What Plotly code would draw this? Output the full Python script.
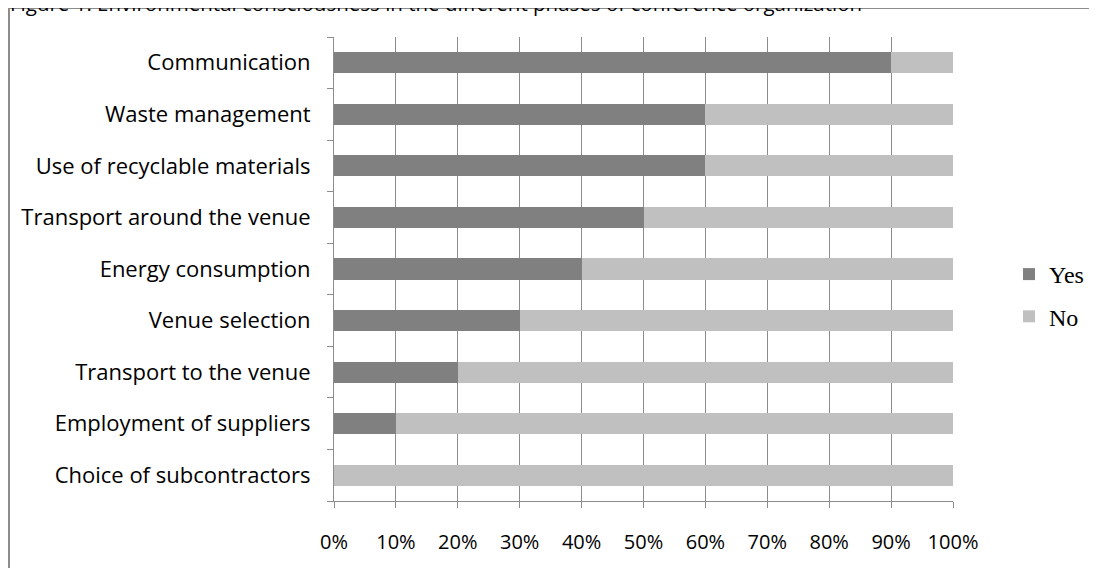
import plotly.graph_objects as go

categories = ["Choice of subcontractors", "Employment of suppliers", "Transport to the venue",
              "Venue selection", "Energy consumption", "Transport around the venue",
              "Use of recyclable materials", "Waste management", "Communication"]
yes_vals = [0, 10, 20, 30, 40, 50, 60, 60, 90]
no_vals = [100, 90, 80, 70, 60, 50, 40, 40, 10]
x_ticks = [0, 10, 20, 30, 40, 50, 60, 70, 80, 90, 100]
x_labels = [f"{v}%" for v in x_ticks]
title_text = "Figure 1. Environmental consciousness in the different phases of conference organization"

# page has an 8px body margin; positions below are in figure pixels
W, H = 1081, 560
PL, PR, PT, PB = 326, 945, 29, 493
L, R, T, B = PL, W - PR, PT, H - PB

fig = go.Figure()
fig.add_trace(go.Bar(y=categories, x=yes_vals, orientation="h", name="Yes",
                     marker=dict(color="#808080", line=dict(width=0)), legendgroup="a"))
fig.add_trace(go.Bar(y=categories, x=no_vals, orientation="h", name="No",
                     marker=dict(color="#C0C0C0", line=dict(width=0)), legendgroup="b"))

def px_x(p):
    return (p - PL) / (PR - PL)

def px_y(p):
    return (PB - p) / (PB - PT)

fig.update_layout(
    width=W, height=H,
    margin=dict(l=L, r=R, t=T, b=B, autoexpand=False),
    barmode="stack", bargap=0.59,
    plot_bgcolor="white", paper_bgcolor="white",
    font=dict(family="Open Sans", size=20, color="#000000"),
    showlegend=True,
    legend=dict(x=px_x(1001), y=px_y(287.5), xanchor="left", yanchor="middle",
                font=dict(family="Liberation Serif", size=24, color="#000"),
                traceorder="grouped", tracegroupgap=8, itemwidth=30,
                bgcolor="rgba(0,0,0,0)"),
    xaxis=dict(range=[0, 100], tickvals=x_ticks, ticktext=x_labels,
               showgrid=True, gridcolor="#8c8c8c", gridwidth=1,
               showline=True, linecolor="#8c8c8c", linewidth=1,
               ticks="outside", ticklen=6, tickcolor="#8c8c8c",
               tickfont=dict(family="Open Sans", size=20), zeroline=False,
               ticklabelstandoff=17, automargin=False, fixedrange=True),
    yaxis=dict(categoryorder="array", categoryarray=categories,
               showline=True, linecolor="#8c8c8c", linewidth=1,
               ticks="outside", ticklen=6, tickcolor="#8c8c8c", tickson="boundaries",
               showgrid=False, tickfont=dict(family="Open Sans", size=22),
               ticklabelstandoff=18, automargin=False, fixedrange=True),
)

fig.add_shape(type="rect", xref="paper", yref="paper",
              x0=px_x(1), x1=px_x(1130), y0=px_y(620), y1=px_y(0),
              line=dict(color="#8c8c8c", width=2), fillcolor="rgba(0,0,0,0)", layer="below")

fig.add_annotation(text=title_text, xref="paper", yref="paper",
                   x=px_x(0), y=px_y(-5), xanchor="left", yanchor="middle",
                   showarrow=False, font=dict(family="Open Sans", size=20.5, color="#000"))

fig.write_html("out.html")
